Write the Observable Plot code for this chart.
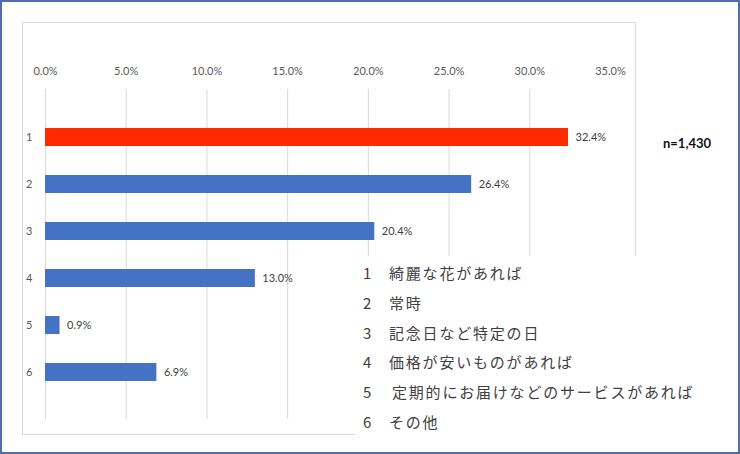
<!DOCTYPE html>
<html>
<head>
<meta charset="utf-8">
<script src="https://cdn.jsdelivr.net/npm/d3@7"></script>
<script src="https://cdn.jsdelivr.net/npm/@observablehq/plot@0.6"></script>
<style>
  html, body { margin: 0; padding: 0; background: #fff; }
  #wrap { position: relative; width: 740px; height: 454px; overflow: hidden; background: #fff; }
  #frame { position: absolute; left: 22px; top: 22px; width: 612px; height: 411px; border: 1px solid #d9d9d9; }
  #chart { position: absolute; left: 0; top: 0; }
  #n { position: absolute; left: 663px; top: 135px; font: bold 13px Lato, "Noto Sans", sans-serif; color: #111; line-height: 16px; }
  #legend { position: absolute; left: 355px; top: 256px; width: 383px; height: 196px; background: #fff;
            padding-top: 2px; box-sizing: border-box; font-family: "Noto Sans CJK JP", sans-serif; font-size: 15px; color: #404040; }
  #legend .row { height: 29.8px; line-height: 29.8px; white-space: nowrap; padding-left: 8px; }
  #legend .num { display: inline-block; width: 26px; }
  #legend .txt { letter-spacing: 1.8px; }
  #border { position: absolute; left: 0; top: 0; width: 740px; height: 454px; box-sizing: border-box; border: 2px solid #4f6fa8; pointer-events: none; }
</style>
</head>
<body>
<div id="wrap">
  <div id="frame"></div>
  <div id="chart"></div>
  <div id="n"></div>
  <div id="legend"></div>
  <div id="border"></div>
</div>
<script>
const categories = ["1", "2", "3", "4", "5", "6"];
const answers = ["綺麗な花があれば", "常時", "記念日など特定の日", "価格が安いものがあれば", "定期的にお届けなどのサービスがあれば", "その他"];
const values = [32.4, 26.4, 20.4, 13.0, 0.9, 6.9];
const axisTicks = [0, 5, 10, 15, 20, 25, 30, 35];
const gridTicks = [0, 5, 10, 15, 20, 25, 30];
const sampleText = "n=1,430";

const rows = categories.map((c, i) => ({cat: c, value: values[i], answer: answers[i]}));
const pct = d => d.toFixed(1) + "%";

const fig = Plot.plot({
  width: 740,
  height: 454,
  marginLeft: 45,
  marginRight: 130,
  marginTop: 89,
  marginBottom: 35,
  style: {fontFamily: "Lato, 'Noto Sans', sans-serif", background: "transparent", overflow: "visible"},
  x: {domain: [0, 35]},
  y: {domain: categories, paddingInner: 0.625, paddingOuter: 0.3125, insetTop: 23.5, insetBottom: 23.5},
  marks: [
    Plot.ruleX(gridTicks, {x: d => d, stroke: "#d9d9d9", strokeWidth: 1}),
    Plot.barX(rows, {x: "value", y: "cat", fill: (d, i) => i === 0 ? "#FF2A00" : "#4472C4"}),
    Plot.text(rows, {x: "value", y: "cat", text: d => pct(d.value), dx: 7, textAnchor: "start", fontSize: 11, fill: "#404040"}),
    Plot.axisX(axisTicks, {anchor: "top", tickSize: 0, tickPadding: 14.5, tickFormat: pct, fontSize: 11, fill: "#595959", label: null}),
    Plot.axisY({anchor: "left", tickSize: 0, tickPadding: 13, fontSize: 11, fill: "#595959", label: null})
  ]
});
document.getElementById("chart").appendChild(fig);
document.getElementById("n").textContent = sampleText;

const legend = document.getElementById("legend");
rows.forEach((r, i) => {
  const row = document.createElement("div");
  row.className = "row";
  const num = document.createElement("span");
  num.className = "num";
  num.textContent = r.cat;
  const txt = document.createElement("span");
  txt.className = "txt";
  txt.textContent = r.answer;
  if (i === 4) txt.style.marginLeft = "3px";
  row.appendChild(num);
  row.appendChild(txt);
  legend.appendChild(row);
});
</script>
</body>
</html>
